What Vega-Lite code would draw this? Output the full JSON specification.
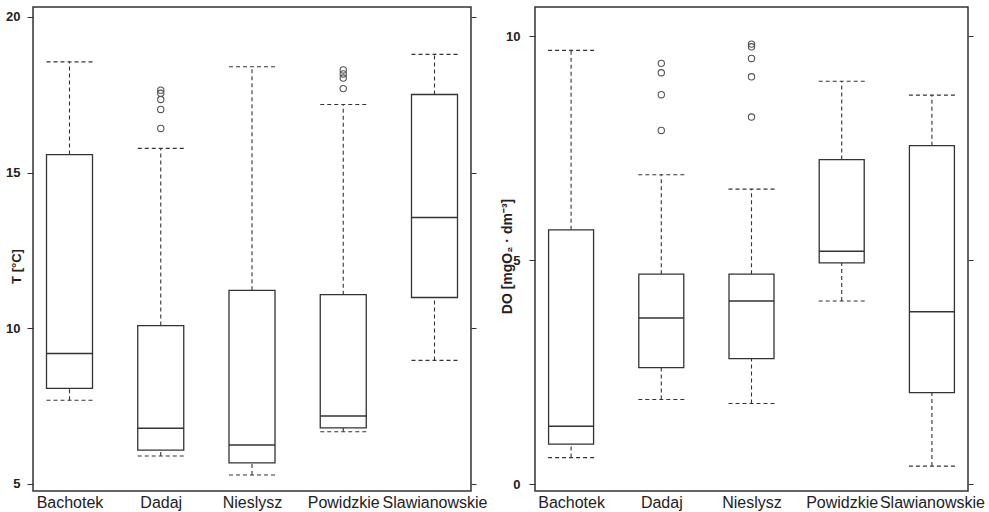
{
  "$schema": "https://vega.github.io/schema/vega-lite/v6.json",
  "padding": {"left": 4, "top": 6, "right": 2, "bottom": 2},
  "bounds": "flush",
  "spacing": 64,
  "background": "white",
  "config": {
    "view": {"stroke": "#333", "strokeWidth": 1.5},
    "font": "Liberation Sans"
  },
  "datasets": {
    "T": [
      {"lake": "Bachotek", "lo": 7.69, "q1": 8.07, "med": 9.19, "q3": 15.58, "hi": 18.56},
      {"lake": "Dadaj", "lo": 5.9, "q1": 6.09, "med": 6.79, "q3": 10.09, "hi": 15.78},
      {"lake": "Nieslysz", "lo": 5.29, "q1": 5.68, "med": 6.25, "q3": 11.22, "hi": 18.4},
      {"lake": "Powidzkie", "lo": 6.68, "q1": 6.8, "med": 7.18, "q3": 11.08, "hi": 17.19},
      {"lake": "Slawianowskie", "lo": 8.97, "q1": 10.99, "med": 13.56, "q3": 17.51, "hi": 18.8}
    ],
    "T_out": [
      {"lake": "Dadaj", "v": 17.65},
      {"lake": "Dadaj", "v": 17.55},
      {"lake": "Dadaj", "v": 17.35},
      {"lake": "Dadaj", "v": 17.03},
      {"lake": "Dadaj", "v": 16.42},
      {"lake": "Powidzkie", "v": 18.3},
      {"lake": "Powidzkie", "v": 18.17},
      {"lake": "Powidzkie", "v": 18.04},
      {"lake": "Powidzkie", "v": 17.7}
    ],
    "DO": [
      {"lake": "Bachotek", "lo": 0.59, "q1": 0.89, "med": 1.29, "q3": 5.68, "hi": 9.69},
      {"lake": "Dadaj", "lo": 1.89, "q1": 2.6, "med": 3.71, "q3": 4.69, "hi": 6.91},
      {"lake": "Nieslysz", "lo": 1.8, "q1": 2.8, "med": 4.09, "q3": 4.69, "hi": 6.59},
      {"lake": "Powidzkie", "lo": 4.09, "q1": 4.94, "med": 5.2, "q3": 7.25, "hi": 9.0},
      {"lake": "Slawianowskie", "lo": 0.4, "q1": 2.04, "med": 3.85, "q3": 7.56, "hi": 8.69}
    ],
    "DO_out": [
      {"lake": "Dadaj", "v": 9.4},
      {"lake": "Dadaj", "v": 9.19},
      {"lake": "Dadaj", "v": 8.7},
      {"lake": "Dadaj", "v": 7.9},
      {"lake": "Nieslysz", "v": 9.83},
      {"lake": "Nieslysz", "v": 9.77},
      {"lake": "Nieslysz", "v": 9.51},
      {"lake": "Nieslysz", "v": 9.1},
      {"lake": "Nieslysz", "v": 8.2}
    ]
  },
  "hconcat": [
    {
      "width": 438,
      "height": 484,
      "resolve": {"axis": {"y": "independent"}},
      "encoding": {
        "x": {
          "field": "lake", "type": "nominal", "title": null,
          "scale": {"type": "point", "padding": 0.4},
          "axis": {"labelFontSize": 16, "labelPadding": 3, "ticks": false, "domain": false, "labelAngle": 0, "labelOverlap": false, "labelColor": "#222", "labelFont": "Liberation Sans"}
        }
      },
      "layer": [
        {
          "data": {"name": "T"},
          "mark": {"type": "rule", "strokeDash": [4, 3], "color": "#333", "strokeWidth": 1.1},
          "encoding": {
            "y": {"field": "lo", "type": "quantitative", "scale": {"domain": [4.775, 20.321], "nice": false, "zero": false},
              "axis": {"values": [5, 10, 15, 20], "title": "T [°C]", "titleX": -13, "titleY": 259, "titleAngle": -90, "titleBaseline": "alphabetic", "titleAlign": "center", "titleFontSize": 13, "titleFontWeight": "bold", "titleColor": "#222", "labelFontSize": 13, "labelFontWeight": "bold", "labelColor": "#222", "tickSize": 6, "tickColor": "#333", "labelPadding": 7, "domain": false, "grid": false}},
            "y2": {"field": "q1"}
          }
        },
        {
          "data": {"name": "T"},
          "mark": {"type": "rule", "strokeDash": [4, 3], "color": "#333", "strokeWidth": 1.1},
          "encoding": {
            "y": {"field": "q3", "type": "quantitative",
              "axis": {"orient": "right", "values": [5, 10, 15, 20], "title": null, "labels": false, "tickSize": 5, "tickColor": "#333", "domain": false, "grid": false}},
            "y2": {"field": "hi"}
          }
        },
        {
          "data": {"name": "T"},
          "mark": {"type": "rule", "strokeDash": [4, 3], "color": "#333", "strokeWidth": 1.1, "xOffset": -23, "x2Offset": 23},
          "encoding": {"x2": {"field": "lake"}, "y": {"field": "lo", "type": "quantitative", "axis": null}}
        },
        {
          "data": {"name": "T"},
          "mark": {"type": "rule", "strokeDash": [4, 3], "color": "#333", "strokeWidth": 1.1, "xOffset": -23, "x2Offset": 23},
          "encoding": {"x2": {"field": "lake"}, "y": {"field": "hi", "type": "quantitative", "axis": null}}
        },
        {
          "data": {"name": "T"},
          "mark": {"type": "bar", "width": 46, "fill": "white", "stroke": "#333", "strokeWidth": 1.3},
          "encoding": {"y": {"field": "q1", "type": "quantitative", "axis": null}, "y2": {"field": "q3"}}
        },
        {
          "data": {"name": "T"},
          "mark": {"type": "rule", "color": "#333", "strokeWidth": 1.5, "xOffset": -23, "x2Offset": 23},
          "encoding": {"x2": {"field": "lake"}, "y": {"field": "med", "type": "quantitative", "axis": null}}
        },
        {
          "data": {"name": "T_out"},
          "mark": {"type": "point", "shape": "circle", "filled": false, "size": 40, "stroke": "#555", "strokeWidth": 1.1, "opacity": 1},
          "encoding": {"y": {"field": "v", "type": "quantitative", "axis": null}}
        }
      ]
    },
    {
      "width": 433,
      "height": 484,
      "resolve": {"axis": {"y": "independent"}},
      "encoding": {
        "x": {
          "field": "lake", "type": "nominal", "title": null,
          "scale": {"type": "point", "padding": 0.4},
          "axis": {"labelFontSize": 16, "labelPadding": 3, "ticks": false, "domain": false, "labelAngle": 0, "labelOverlap": false, "labelColor": "#222", "labelFont": "Liberation Sans"}
        }
      },
      "layer": [
        {
          "data": {"name": "DO"},
          "mark": {"type": "rule", "strokeDash": [4, 3], "color": "#333", "strokeWidth": 1.1},
          "encoding": {
            "y": {"field": "lo", "type": "quantitative", "scale": {"domain": [-0.156, 10.659], "nice": false, "zero": false},
              "axis": {"values": [0, 5, 10], "title": "DO [mgO₂ · dm⁻³]", "titleX": -24, "titleY": 249, "titleAngle": -90, "titleBaseline": "alphabetic", "titleAlign": "center", "titleFontSize": 14, "titleFontWeight": "bold", "titleColor": "#222", "labelFontSize": 13, "labelFontWeight": "bold", "labelColor": "#222", "tickSize": 6, "tickColor": "#333", "labelPadding": 9, "domain": false, "grid": false}},
            "y2": {"field": "q1"}
          }
        },
        {
          "data": {"name": "DO"},
          "mark": {"type": "rule", "strokeDash": [4, 3], "color": "#333", "strokeWidth": 1.1},
          "encoding": {
            "y": {"field": "q3", "type": "quantitative",
              "axis": {"orient": "right", "values": [0, 5, 10], "title": null, "labels": false, "tickSize": 5, "tickColor": "#333", "domain": false, "grid": false}},
            "y2": {"field": "hi"}
          }
        },
        {
          "data": {"name": "DO"},
          "mark": {"type": "rule", "strokeDash": [4, 3], "color": "#333", "strokeWidth": 1.1, "xOffset": -23, "x2Offset": 23},
          "encoding": {"x2": {"field": "lake"}, "y": {"field": "lo", "type": "quantitative", "axis": null}}
        },
        {
          "data": {"name": "DO"},
          "mark": {"type": "rule", "strokeDash": [4, 3], "color": "#333", "strokeWidth": 1.1, "xOffset": -23, "x2Offset": 23},
          "encoding": {"x2": {"field": "lake"}, "y": {"field": "hi", "type": "quantitative", "axis": null}}
        },
        {
          "data": {"name": "DO"},
          "mark": {"type": "bar", "width": 45, "fill": "white", "stroke": "#333", "strokeWidth": 1.3},
          "encoding": {"y": {"field": "q1", "type": "quantitative", "axis": null}, "y2": {"field": "q3"}}
        },
        {
          "data": {"name": "DO"},
          "mark": {"type": "rule", "color": "#333", "strokeWidth": 1.5, "xOffset": -22.5, "x2Offset": 22.5},
          "encoding": {"x2": {"field": "lake"}, "y": {"field": "med", "type": "quantitative", "axis": null}}
        },
        {
          "data": {"name": "DO_out"},
          "mark": {"type": "point", "shape": "circle", "filled": false, "size": 40, "stroke": "#555", "strokeWidth": 1.1, "opacity": 1},
          "encoding": {"y": {"field": "v", "type": "quantitative", "axis": null}}
        }
      ]
    }
  ]
}
